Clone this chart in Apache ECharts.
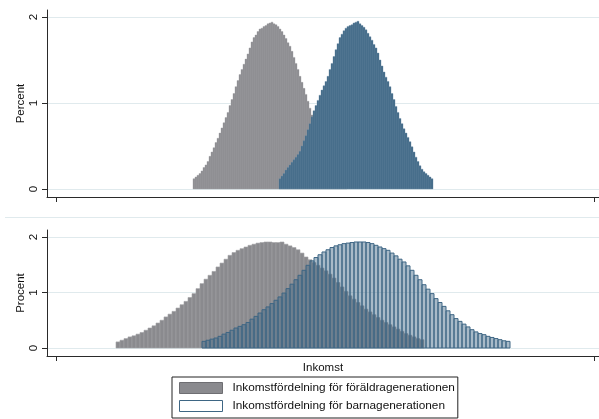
<!DOCTYPE html>
<html>
<head>
<meta charset="utf-8">
<script src="https://cdn.jsdelivr.net/npm/echarts@6/dist/echarts.min.js"></script>
<style>
html,body{margin:0;padding:0;background:#fff;}
#chart{width:599px;height:419px;}
</style>
</head>
<body>
<div id="chart"></div>
<script>
// ---- data (income index on x; percent on y) ----
const seriesNames = ['Inkomstfördelning för föräldragenerationen', 'Inkomstfördelning för barnagenerationen'];
const yTitles = ['Percent', 'Procent'];
const xTitle = 'Inkomst';
const yTicks = [0, 1, 2];
const xTicks = [0, 538];

// top panel: bin start and width
const topParentStart = 137, topChildStart = 223, topBinWidth = 2;
const topParent = [0.12,0.14,0.16,0.18,0.21,0.25,0.28,0.32,0.38,0.43,0.48,0.54,0.59,0.65,0.71,0.77,0.83,0.89,0.97,1.04,1.11,1.19,1.26,1.33,1.39,1.45,1.51,1.57,1.64,1.71,1.76,1.79,1.83,1.86,1.87,1.89,1.90,1.92,1.93,1.94,1.92,1.91,1.89,1.86,1.83,1.79,1.75,1.70,1.66,1.60,1.53,1.46,1.39,1.31,1.24,1.17,1.10,1.02,0.94,0.86,0.79,0.72,0.66,0.60,0.55,0.50,0.45,0.40,0.34,0.30,0.27,0.24,0.21,0.18,0.16,0.14,0.12];
const topChild = [0.12,0.15,0.18,0.22,0.25,0.28,0.31,0.34,0.37,0.40,0.44,0.50,0.56,0.62,0.69,0.76,0.84,0.91,0.97,1.03,1.09,1.15,1.20,1.25,1.31,1.39,1.46,1.54,1.62,1.69,1.76,1.80,1.84,1.87,1.89,1.90,1.91,1.93,1.94,1.95,1.92,1.90,1.88,1.85,1.81,1.77,1.73,1.68,1.64,1.58,1.50,1.43,1.36,1.30,1.25,1.19,1.11,1.04,0.96,0.89,0.82,0.76,0.70,0.65,0.60,0.55,0.49,0.43,0.37,0.32,0.27,0.23,0.20,0.18,0.16,0.14,0.12];

// bottom panel
const botParentStart = 60, botChildStart = 146, botBinWidth = 4;
const botParent = [0.11,0.14,0.17,0.20,0.22,0.25,0.28,0.32,0.36,0.40,0.45,0.50,0.56,0.61,0.66,0.72,0.78,0.84,0.91,0.98,1.07,1.16,1.24,1.31,1.38,1.46,1.53,1.60,1.67,1.72,1.76,1.79,1.82,1.85,1.87,1.89,1.90,1.91,1.91,1.90,1.90,1.91,1.87,1.84,1.81,1.77,1.71,1.64,1.59,1.54,1.49,1.44,1.39,1.33,1.26,1.18,1.10,1.02,0.94,0.88,0.82,0.76,0.70,0.65,0.60,0.55,0.50,0.46,0.42,0.38,0.34,0.30,0.26,0.23,0.20,0.17,0.15];
const botChild = [0.12,0.14,0.16,0.18,0.21,0.25,0.28,0.32,0.36,0.39,0.42,0.46,0.52,0.57,0.63,0.69,0.74,0.80,0.86,0.92,0.99,1.07,1.15,1.23,1.31,1.40,1.49,1.57,1.63,1.68,1.73,1.77,1.81,1.84,1.86,1.88,1.89,1.90,1.91,1.91,1.91,1.90,1.88,1.85,1.82,1.79,1.76,1.71,1.66,1.60,1.55,1.48,1.40,1.31,1.23,1.14,1.06,0.98,0.89,0.82,0.75,0.67,0.60,0.53,0.48,0.43,0.38,0.33,0.29,0.26,0.24,0.21,0.19,0.17,0.15,0.13,0.12];

// ---- helpers ----
function bins(start, width, heights) {
  return heights.map((h, i) => [start + i * width, start + (i + 1) * width, h]);
}
function makeRender(style) {
  return function (params, api) {
    const p0 = api.coord([api.value(0), api.value(2)]);
    const p1 = api.coord([api.value(1), 0]);
    return {
      type: 'rect',
      shape: { x: p0[0], y: p0[1], width: p1[0] - p0[0], height: p1[1] - p0[1] },
      style: style
    };
  };
}

const FONT = 'Liberation Sans, Arial, Helvetica, sans-serif';
const GRAY = '#8a8a8e', GRAY_LINE = '#a2a2a6';
const BLUE = '#3e6684', BLUE_LINE = '#6f91a9';
const GRID_COLOR = '#e0eaed';
const AXIS_COLOR = '#2a2a2a';

const grids = [
  { left: 47, width: 552, top: 10, height: 187 },
  { left: 47, width: 552, top: 230, height: 126 }
];
const yRanges = [[-0.093, 2.081], [-0.144, 2.126]];

function xAxisDef(idx, showName) {
  return {
    type: 'value', gridIndex: idx, min: -9, max: 543,
    axisLine: { show: true, onZero: false, lineStyle: { color: AXIS_COLOR, width: 1 } },
    axisTick: { show: true, length: 5, customValues: xTicks, lineStyle: { color: AXIS_COLOR } },
    axisLabel: { show: false, customValues: xTicks },
    splitLine: { show: false },
    name: showName ? xTitle : '',
    nameLocation: 'middle', nameGap: 6, nameMoveOverlap: false,
    nameTextStyle: { fontFamily: FONT, fontSize: 11.5, color: '#111', verticalAlign: 'top' }
  };
}
function yAxisDef(idx) {
  return {
    type: 'value', gridIndex: idx, min: yRanges[idx][0], max: yRanges[idx][1],
    axisLine: { show: true, onZero: false, lineStyle: { color: AXIS_COLOR, width: 1 } },
    axisTick: { show: true, length: 5, customValues: yTicks, lineStyle: { color: AXIS_COLOR } },
    axisLabel: { show: true, customValues: yTicks, rotate: 90, margin: 7,
      fontFamily: FONT, fontSize: 11.5, color: '#111' },
    splitLine: { show: true, customValues: yTicks, lineStyle: { color: GRID_COLOR, width: 1 } },
    name: yTitles[idx], nameLocation: 'middle', nameGap: 20, nameMoveOverlap: false,
    nameTextStyle: { fontFamily: FONT, fontSize: 11.5, color: '#111' }
  };
}

const option = {
  animation: false,
  backgroundColor: '#fff',
  grid: grids,
  xAxis: [xAxisDef(0, false), xAxisDef(1, true)],
  yAxis: [yAxisDef(0), yAxisDef(1)],
  legend: {
    orient: 'vertical', left: 172, top: 377, height: 80,
    padding: [5, 3, 6, 7],
    itemWidth: 43, itemHeight: 11, itemGap: 6,
    borderColor: '#222', borderWidth: 1,
    textStyle: { fontFamily: FONT, fontSize: 11.8, color: '#111', padding: [0, 0, 0, 5] },
    data: [
      { name: seriesNames[0], icon: 'rect', itemStyle: { color: GRAY, borderColor: '#6e6e72', borderWidth: 1 } },
      { name: seriesNames[1], icon: 'rect', itemStyle: { color: '#ffffff', borderColor: BLUE, borderWidth: 1 } }
    ],
    selectedMode: false
  },
  graphic: [{
    type: 'line', shape: { x1: 5, y1: 217.5, x2: 599, y2: 217.5 },
    style: { stroke: GRID_COLOR, lineWidth: 1 }, silent: true
  }],
  series: [
    { type: 'custom', name: seriesNames[0], xAxisIndex: 0, yAxisIndex: 0,
      itemStyle: { color: GRAY },
      renderItem: makeRender({ fill: GRAY, stroke: GRAY_LINE, lineWidth: 0.4 }),
      data: bins(topParentStart, topBinWidth, topParent) },
    { type: 'custom', name: seriesNames[1], xAxisIndex: 0, yAxisIndex: 0,
      itemStyle: { color: BLUE },
      renderItem: makeRender({ fill: BLUE, stroke: BLUE_LINE, lineWidth: 0.4 }),
      data: bins(topChildStart, topBinWidth, topChild) },
    { type: 'custom', name: seriesNames[0], xAxisIndex: 1, yAxisIndex: 1,
      itemStyle: { color: GRAY },
      renderItem: makeRender({ fill: GRAY, stroke: GRAY_LINE, lineWidth: 0.6 }),
      data: bins(botParentStart, botBinWidth, botParent) },
    { type: 'custom', name: seriesNames[1], xAxisIndex: 1, yAxisIndex: 1,
      itemStyle: { color: BLUE },
      renderItem: makeRender({ fill: 'rgba(62,102,132,0.45)', stroke: BLUE, lineWidth: 1 }),
      data: bins(botChildStart, botBinWidth, botChild) }
  ]
};

const chart = echarts.init(document.getElementById('chart'), null, { renderer: 'canvas' });
chart.setOption(option);
</script>
</body>
</html>
